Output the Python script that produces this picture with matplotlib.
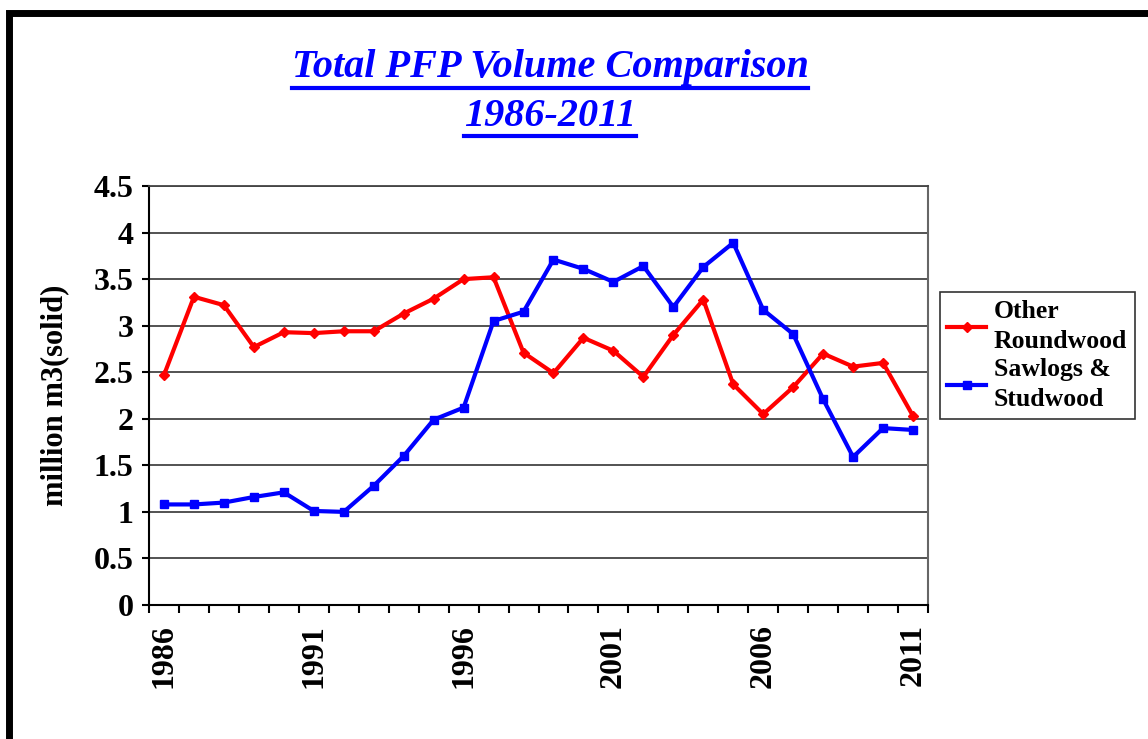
import matplotlib
matplotlib.use("Agg")
import matplotlib.pyplot as plt
from matplotlib.patches import Rectangle
from matplotlib.lines import Line2D

years = list(range(1986, 2012))
other_roundwood = [2.47, 3.31, 3.22, 2.77, 2.93, 2.92, 2.94, 2.94, 3.13, 3.29,
                   3.50, 3.52, 2.71, 2.49, 2.87, 2.73, 2.45, 2.90, 3.28, 2.37,
                   2.05, 2.34, 2.70, 2.56, 2.60, 2.03]
sawlogs_studwood = [1.08, 1.08, 1.10, 1.16, 1.21, 1.01, 1.00, 1.28, 1.60, 1.99,
                    2.12, 3.05, 3.15, 3.71, 3.61, 3.47, 3.64, 3.20, 3.63, 3.89,
                    3.17, 2.91, 2.21, 1.59, 1.90, 1.88]
year_labels = [1986, 1991, 1996, 2001, 2006, 2011]
y_ticks = [0, 0.5, 1, 1.5, 2, 2.5, 3, 3.5, 4, 4.5]

serif = "Liberation Serif"

fig = plt.figure(figsize=(11.48, 7.39), dpi=100)
fig.patch.set_facecolor("white")

# frame around the whole chart (cut off at right/bottom like the reference)
fig.patches.append(Rectangle((9 / 1148, -0.05), 1.2, 1 - 13 / 739 + 0.05,
                             transform=fig.transFigure, fill=False,
                             edgecolor="black", linewidth=5))

ax = fig.add_axes([149 / 1148, 1 - 605 / 739, 779 / 1148, 419 / 739])

ax.plot(years, other_roundwood, color="#ff0000", linewidth=3, marker="D",
        markersize=5, label="Other\nRoundwood")
ax.plot(years, sawlogs_studwood, color="#0000ff", linewidth=3, marker="s",
        markersize=6, label="Sawlogs &\nStudwood")

ax.set_xlim(1985.5, 2011.5)
ax.set_ylim(0, 4.5)
ax.set_yticks(y_ticks)
ax.set_yticklabels([f"{v:g}" for v in y_ticks], fontfamily=serif,
                   fontweight="bold", fontsize=23)
ax.set_xticks(year_labels)
ax.set_xticklabels([str(y) for y in year_labels], rotation=90,
                   fontfamily=serif, fontweight="bold", fontsize=23)
ax.set_xticks([y - 0.5 for y in years] + [2011.5], minor=True)
ax.tick_params(axis="x", which="major", length=0, pad=14)
ax.tick_params(axis="x", which="minor", length=6, width=1.5, direction="out")
ax.tick_params(axis="y", length=5, width=1.5, direction="out", pad=6)

ax.grid(axis="y", color="#444444", linewidth=1.3)
ax.set_axisbelow(True)
ax.spines["left"].set_color("black")
ax.spines["bottom"].set_color("black")
ax.spines["left"].set_linewidth(1.5)
ax.spines["bottom"].set_linewidth(1.5)
ax.spines["right"].set_color("#666666")
ax.spines["top"].set_color("#444444")
ax.spines["right"].set_linewidth(1.5)
ax.spines["top"].set_linewidth(1.3)

ax.set_ylabel("million m3(solid)", fontfamily=serif, fontweight="bold",
              fontsize=22, labelpad=18)

leg = ax.legend(loc="center left", bbox_to_anchor=(1.015, 0.595),
                prop={"family": serif, "weight": "bold", "size": 18.5},
                frameon=True, fancybox=False, edgecolor="black",
                handlelength=1.5, handletextpad=0.3, borderpad=0.3,
                labelspacing=0.2, borderaxespad=0)
leg.get_frame().set_linewidth(1.2)
for t in leg.get_texts():
    t.set_linespacing(1.4)

# title with underline
title_lines = [("Total PFP Volume Comparison", 1 - 68 / 739),
               ("1986-2011", 1 - 116 / 739)]
fig.canvas.draw()
renderer = fig.canvas.get_renderer()
for text, yc in title_lines:
    t = fig.text(550 / 1148, yc, text, ha="center", va="center",
                 color="#0000ff", fontfamily=serif, fontstyle="italic",
                 fontweight="bold", fontsize=29)
    bb = t.get_window_extent(renderer=renderer)
    x0, x1 = bb.x0 / fig.bbox.width, bb.x1 / fig.bbox.width
    yl = (bb.y0 - 1) / fig.bbox.height
    fig.add_artist(Line2D([x0, x1], [yl, yl], transform=fig.transFigure,
                          color="#0000ff", linewidth=3))

fig.savefig("out.png", dpi=100, facecolor="white")
